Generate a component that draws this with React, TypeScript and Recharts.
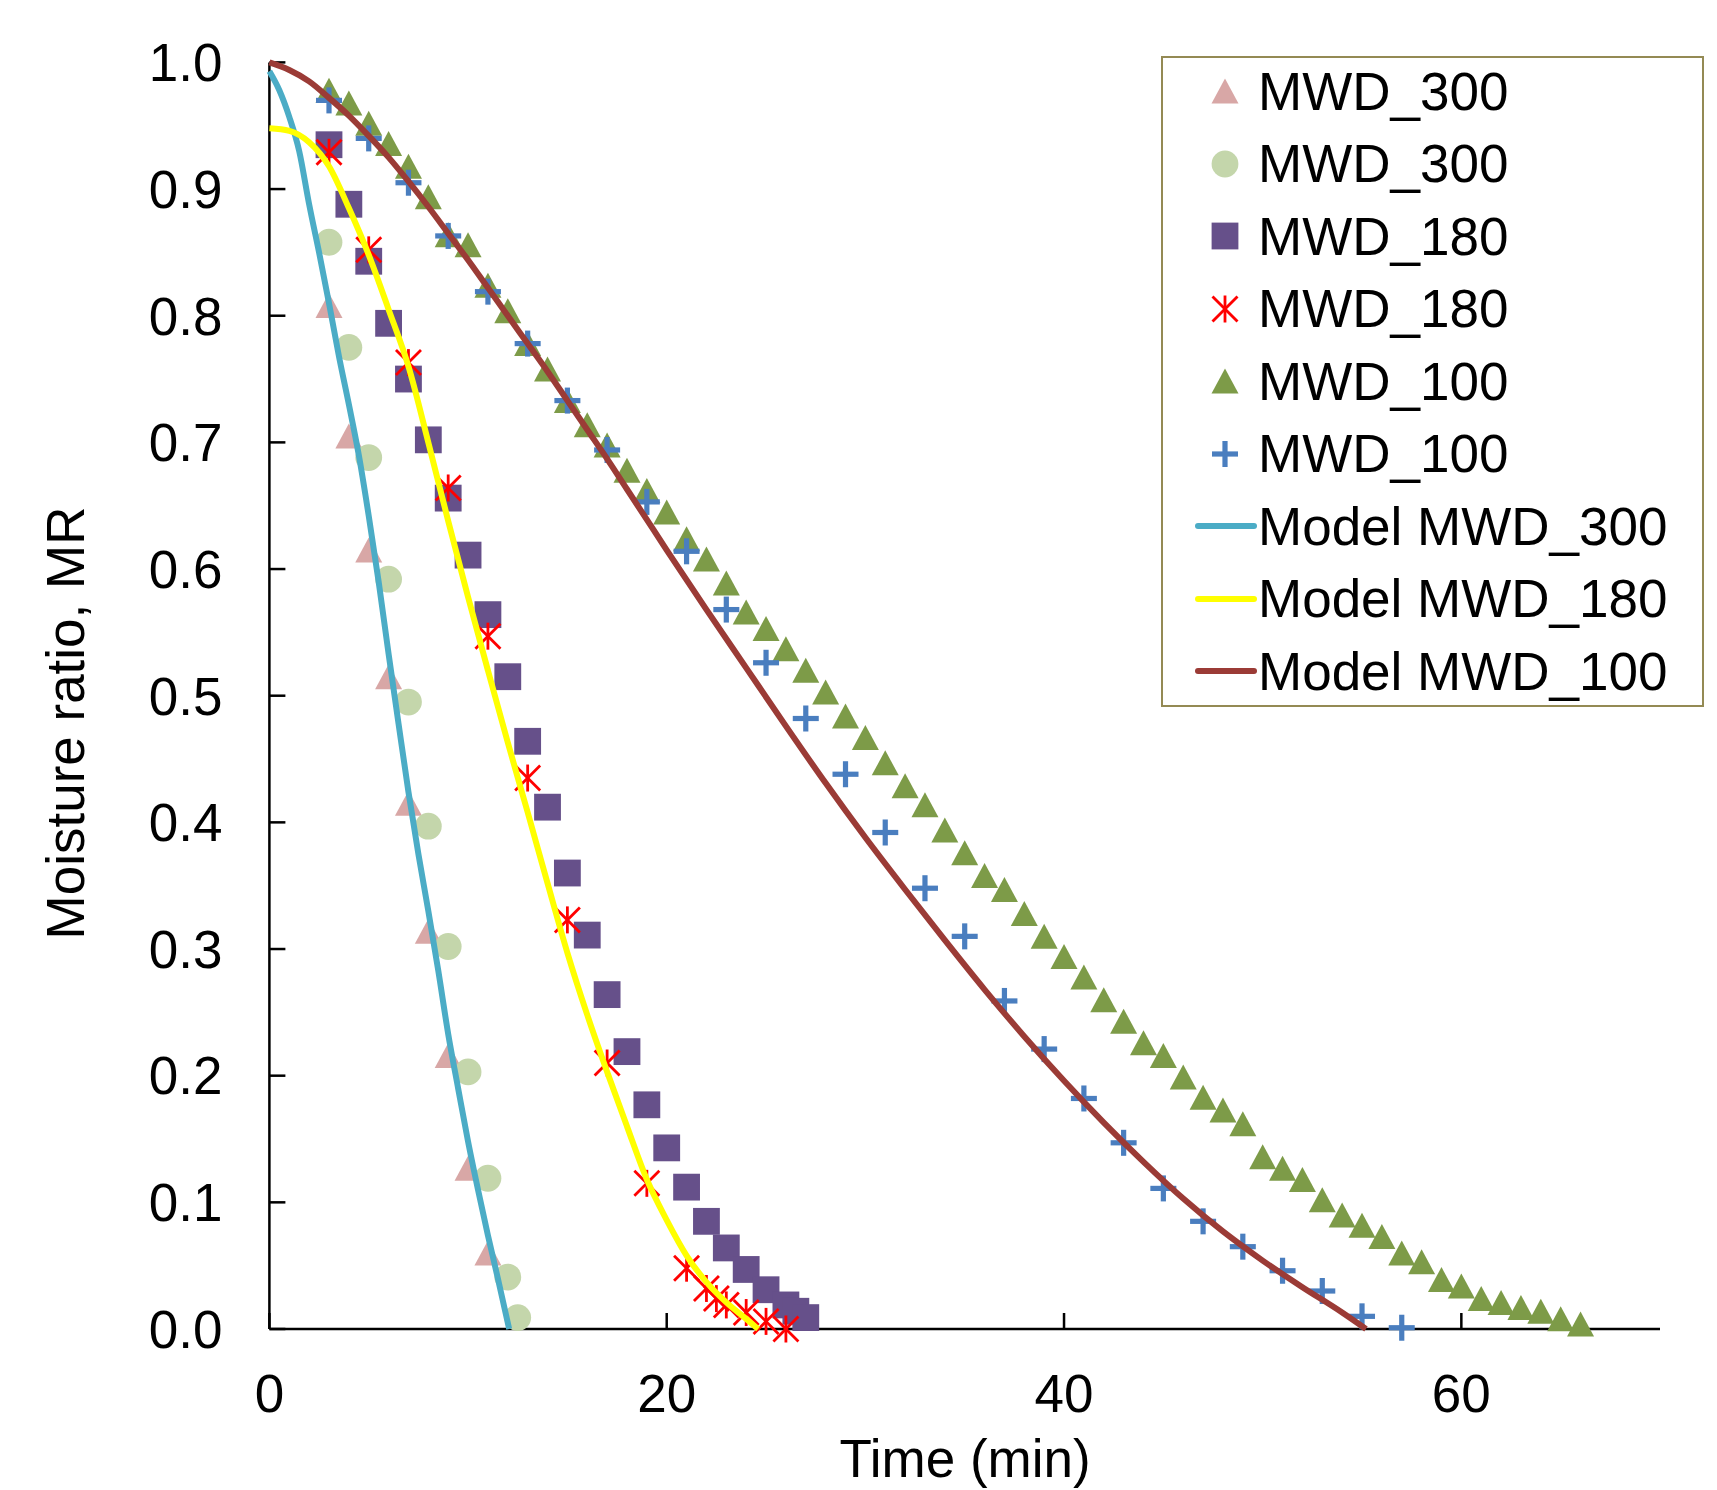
import React from 'react';
import { ComposedChart, Scatter, Line, XAxis, YAxis, Label } from 'recharts';

const FONT = '"Liberation Sans", Arial, Helvetica, sans-serif';

// experimental moisture ratio readings: [time (min), MR]
const mwd300Tri: [number, number][] = [
  [3, 0.808], [4, 0.705], [5, 0.615], [6, 0.515], [7, 0.415], [8, 0.314], [9, 0.216], [10, 0.127], [11, 0.06],
];
const mwd300Dot: [number, number][] = [
  [3, 0.858], [4, 0.775], [5, 0.688], [6, 0.592], [7, 0.495], [8, 0.397], [9, 0.302], [10, 0.203], [11, 0.119],
  [12, 0.041], [12.5, 0.009],
];
const mwd180Sq: [number, number][] = [
  [3, 0.935], [4, 0.888], [5, 0.843], [6, 0.794], [7, 0.75], [8, 0.702], [9, 0.656], [10, 0.611], [11, 0.564],
  [12, 0.515], [13, 0.464], [14, 0.412], [15, 0.36], [16, 0.311], [17, 0.264], [18, 0.219], [19, 0.177],
  [20, 0.143], [21, 0.112], [22, 0.085], [23, 0.064], [24, 0.047], [25, 0.031], [26, 0.019], [26.5, 0.014],
  [27, 0.009],
];
const mwd180Star: [number, number][] = [
  [3, 0.929], [5, 0.852], [7, 0.763], [9, 0.664], [11, 0.547], [13, 0.435], [15, 0.323], [17, 0.21], [19, 0.115],
  [21, 0.048], [22, 0.032], [22.5, 0.024], [23, 0.019], [24, 0.013], [25, 0.006], [26, 0.0],
];
const mwd100Tri: [number, number][] = [
  [3, 0.978], [4, 0.968], [5, 0.952], [6, 0.936], [7, 0.918], [8, 0.894], [9, 0.864], [10, 0.856], [11, 0.824],
  [12, 0.804], [13, 0.778], [14, 0.758], [15, 0.733], [16, 0.714], [17, 0.698], [18, 0.678], [19, 0.662],
  [20, 0.645], [21, 0.624], [22, 0.608], [23, 0.589], [24, 0.566], [25, 0.553], [26, 0.537], [27, 0.52],
  [28, 0.503], [29, 0.484], [30, 0.467], [31, 0.447], [32, 0.429], [33, 0.414], [34, 0.394], [35, 0.376],
  [36, 0.358], [37, 0.347], [38, 0.328], [39, 0.31], [40, 0.294], [41, 0.278], [42, 0.26], [43, 0.243],
  [44, 0.226], [45, 0.216], [46, 0.199], [47, 0.183], [48, 0.173], [49, 0.162], [50, 0.136], [51, 0.127],
  [52, 0.118], [53, 0.102], [54, 0.09], [55, 0.082], [56, 0.073], [57, 0.06], [58, 0.053], [59, 0.039],
  [60, 0.034], [61, 0.024], [62, 0.021], [63, 0.017], [64, 0.014], [65, 0.008], [66, 0.004],
];
const mwd100Plus: [number, number][] = [
  [3, 0.97], [5, 0.94], [7, 0.905], [9, 0.863], [11, 0.819], [13, 0.778], [15, 0.733], [17, 0.694], [19, 0.653],
  [21, 0.614], [23, 0.568], [25, 0.526], [27, 0.482], [29, 0.438], [31, 0.392], [33, 0.348], [35, 0.31],
  [37, 0.259], [39, 0.221], [41, 0.182], [43, 0.147], [45, 0.111], [47, 0.085], [49, 0.065], [51, 0.046],
  [53, 0.03], [55, 0.01], [57, 0.001],
];

// fitted model curves
const model300: [number, number][] = [
  [0, 0.993], [0.5, 0.978], [1, 0.957], [1.5, 0.93], [2, 0.888], [2.5, 0.85], [3, 0.81], [3.5, 0.768], [4, 0.73],
  [4.5, 0.69], [5, 0.642], [5.5, 0.59], [6, 0.533], [6.5, 0.478], [7, 0.424], [7.5, 0.375], [8, 0.33],
  [8.5, 0.283], [9, 0.233], [9.5, 0.19], [10, 0.148], [10.5, 0.11], [11, 0.074], [11.5, 0.04], [12.07, 0],
];
const model180: [number, number][] = [
  [0, 0.948], [1, 0.946], [2, 0.937], [3, 0.918], [4, 0.885], [5, 0.848], [6, 0.805], [7, 0.76], [8, 0.7],
  [9, 0.638], [10, 0.578], [11, 0.52], [12, 0.463], [13, 0.408], [14, 0.352], [15, 0.297], [16, 0.248],
  [17, 0.203], [18, 0.16], [19, 0.118], [20, 0.086], [21, 0.058], [22, 0.037], [23, 0.021], [24, 0.008], [24.6, 0],
];
const model100: [number, number][] = [
  [0, 1.0], [1, 0.994], [2, 0.985], [3, 0.972], [4, 0.958], [5, 0.942], [6, 0.925], [7, 0.906], [8, 0.886],
  [9, 0.865], [10, 0.844], [11, 0.822], [12, 0.8], [13, 0.778], [14, 0.756], [15, 0.733], [16, 0.71],
  [17, 0.687], [18, 0.663], [19, 0.639], [20, 0.615], [22, 0.568], [24, 0.522], [26, 0.476], [28, 0.431],
  [30, 0.388], [32, 0.347], [34, 0.307], [36, 0.268], [38, 0.231], [40, 0.196], [42, 0.163], [44, 0.132],
  [46, 0.103], [48, 0.077], [50, 0.054], [52, 0.033], [54, 0.013], [55.2, 0],
];

const xTicks = [0, 20, 40, 60];
const yTicks = [0, 0.1, 0.2, 0.3, 0.4, 0.5, 0.6, 0.7, 0.8, 0.9, 1.0];

const pts = (arr: [number, number][]) => arr.map(([x, y]) => ({ x, y }));

const C = {
  pink: '#D8A7A6',
  sage: '#C4D6AB',
  purple: '#66508A',
  red: '#FF0000',
  olive: '#7D9B48',
  blue: '#4A7EBF',
  cyan: '#4BACC6',
  yellow: '#FFFF00',
  brown: '#9B3B36',
};

const drawTriangle = (fill: string, cx: number, cy: number) => (
  <polygon points={`${cx},${cy - 12.5} ${cx - 13.5},${cy + 12.5} ${cx + 13.5},${cy + 12.5}`} fill={fill} />
);
const drawCircle = (fill: string, cx: number, cy: number) => <circle cx={cx} cy={cy} r={13.4} fill={fill} />;
const drawSquare = (fill: string, cx: number, cy: number) => (
  <rect x={cx - 13.4} y={cy - 13.4} width={26.8} height={26.8} fill={fill} />
);
const drawPlus = (fill: string, cx: number, cy: number) => (
  <g fill={fill}>
    <rect x={cx - 13} y={cy - 2.6} width={26} height={5.2} />
    <rect x={cx - 2.6} y={cy - 13} width={5.2} height={26} />
  </g>
);
const drawStar = (stroke: string, cx: number, cy: number) => (
  <g stroke={stroke} strokeWidth={2.8}>
    <line x1={cx - 12.5} y1={cy - 12.5} x2={cx + 12.5} y2={cy + 12.5} />
    <line x1={cx - 12.5} y1={cy + 12.5} x2={cx + 12.5} y2={cy - 12.5} />
    <line x1={cx} y1={cy - 13.5} x2={cx} y2={cy + 13.5} />
  </g>
);

const shape = (draw: (c: string, x: number, y: number) => React.ReactElement, color: string) => (p: any) =>
  draw(color, p.cx, p.cy);

const legendItems = [
  { name: 'MWD_300', draw: drawTriangle, color: C.pink },
  { name: 'MWD_300', draw: drawCircle, color: C.sage },
  { name: 'MWD_180', draw: drawSquare, color: C.purple },
  { name: 'MWD_180', draw: drawStar, color: C.red },
  { name: 'MWD_100', draw: drawTriangle, color: C.olive },
  { name: 'MWD_100', draw: drawPlus, color: C.blue },
  { name: 'Model MWD_300', line: true, color: C.cyan },
  { name: 'Model MWD_180', line: true, color: C.yellow },
  { name: 'Model MWD_100', line: true, color: C.brown },
];

function LegendBox() {
  return (
    <div
      style={{
        position: 'absolute',
        left: 1161,
        top: 56,
        width: 543,
        height: 651,
        boxSizing: 'border-box',
        border: '2px solid #948A54',
        background: '#fff',
        fontFamily: FONT,
        fontSize: 53,
        color: '#000',
      }}
    >
      <div style={{ marginTop: -3 }}>
        {legendItems.map((it, i) => (
          <div key={i} style={{ height: 72.5, display: 'flex', alignItems: 'center' }}>
            <svg width={95} height={72} style={{ flex: 'none' }}>
              {it.line ? (
                <line x1={35} y1={36} x2={91} y2={36} stroke={it.color} strokeWidth={6} strokeLinecap="round" />
              ) : (
                it.draw!(it.color, 62, 36)
              )}
            </svg>
            <span style={{ lineHeight: 1, whiteSpace: 'nowrap' }}>{it.name}</span>
          </div>
        ))}
      </div>
    </div>
  );
}

const axisStroke = { stroke: '#000', strokeWidth: 2.5 };

export default function App() {
  return (
    <div style={{ position: 'absolute', left: 0, top: 0, width: 1717, height: 1490, background: '#fff' }}>
      <ComposedChart width={1717} height={1490} margin={{ top: 62.4, right: 57, bottom: 0, left: 69.4 }}>
        <XAxis
          type="number"
          dataKey="x"
          domain={[0, 70]}
          ticks={xTicks}
          interval={0}
          height={161}
          axisLine={axisStroke}
          tickLine={axisStroke}
          tickSize={-16}
          tickMargin={61}
          tick={{ fill: '#000', fontSize: 53, fontFamily: FONT }}
        >
          <Label
            value="Time (min)"
            content={() => (
              <text x={965} y={1477} textAnchor="middle" fontSize={53} fontFamily={FONT} fill="#000">
                Time (min)
              </text>
            )}
          />
        </XAxis>
        <YAxis
          type="number"
          dataKey="y"
          domain={[0, 1]}
          ticks={yTicks}
          interval={0}
          width={200}
          axisLine={axisStroke}
          tickLine={axisStroke}
          tickSize={-16}
          tickMargin={63}
          tickFormatter={(v: number) => v.toFixed(1)}
          tick={{ fill: '#000', fontSize: 53, fontFamily: FONT }}
        >
          <Label
            value="Moisture ratio, MR"
            content={() => (
              <text
                x={84}
                y={723}
                transform="rotate(-90 84 723)"
                textAnchor="middle"
                fontSize={53}
                fontFamily={FONT}
                fill="#000"
              >
                Moisture ratio, MR
              </text>
            )}
          />
        </YAxis>

        <Scatter name="MWD_300" data={pts(mwd300Tri)} shape={shape(drawTriangle, C.pink)} isAnimationActive={false} />
        <Scatter name="MWD_300 " data={pts(mwd300Dot)} shape={shape(drawCircle, C.sage)} isAnimationActive={false} />
        <Scatter name="MWD_180" data={pts(mwd180Sq)} shape={shape(drawSquare, C.purple)} isAnimationActive={false} />
        <Scatter name="MWD_180 " data={pts(mwd180Star)} shape={shape(drawStar, C.red)} isAnimationActive={false} />
        <Scatter name="MWD_100" data={pts(mwd100Tri)} shape={shape(drawTriangle, C.olive)} isAnimationActive={false} />
        <Scatter name="MWD_100 " data={pts(mwd100Plus)} shape={shape(drawPlus, C.blue)} isAnimationActive={false} />

        <Line name="Model MWD_300" data={pts(model300)} dataKey="y" type="monotone" stroke={C.cyan} strokeWidth={6}
          dot={false} activeDot={false} isAnimationActive={false} zIndex={700} />
        <Line name="Model MWD_180" data={pts(model180)} dataKey="y" type="monotone" stroke={C.yellow} strokeWidth={6}
          dot={false} activeDot={false} isAnimationActive={false} zIndex={700} />
        <Line name="Model MWD_100" data={pts(model100)} dataKey="y" type="monotone" stroke={C.brown} strokeWidth={6}
          dot={false} activeDot={false} isAnimationActive={false} zIndex={700} />
      </ComposedChart>
      <LegendBox />
    </div>
  );
}
